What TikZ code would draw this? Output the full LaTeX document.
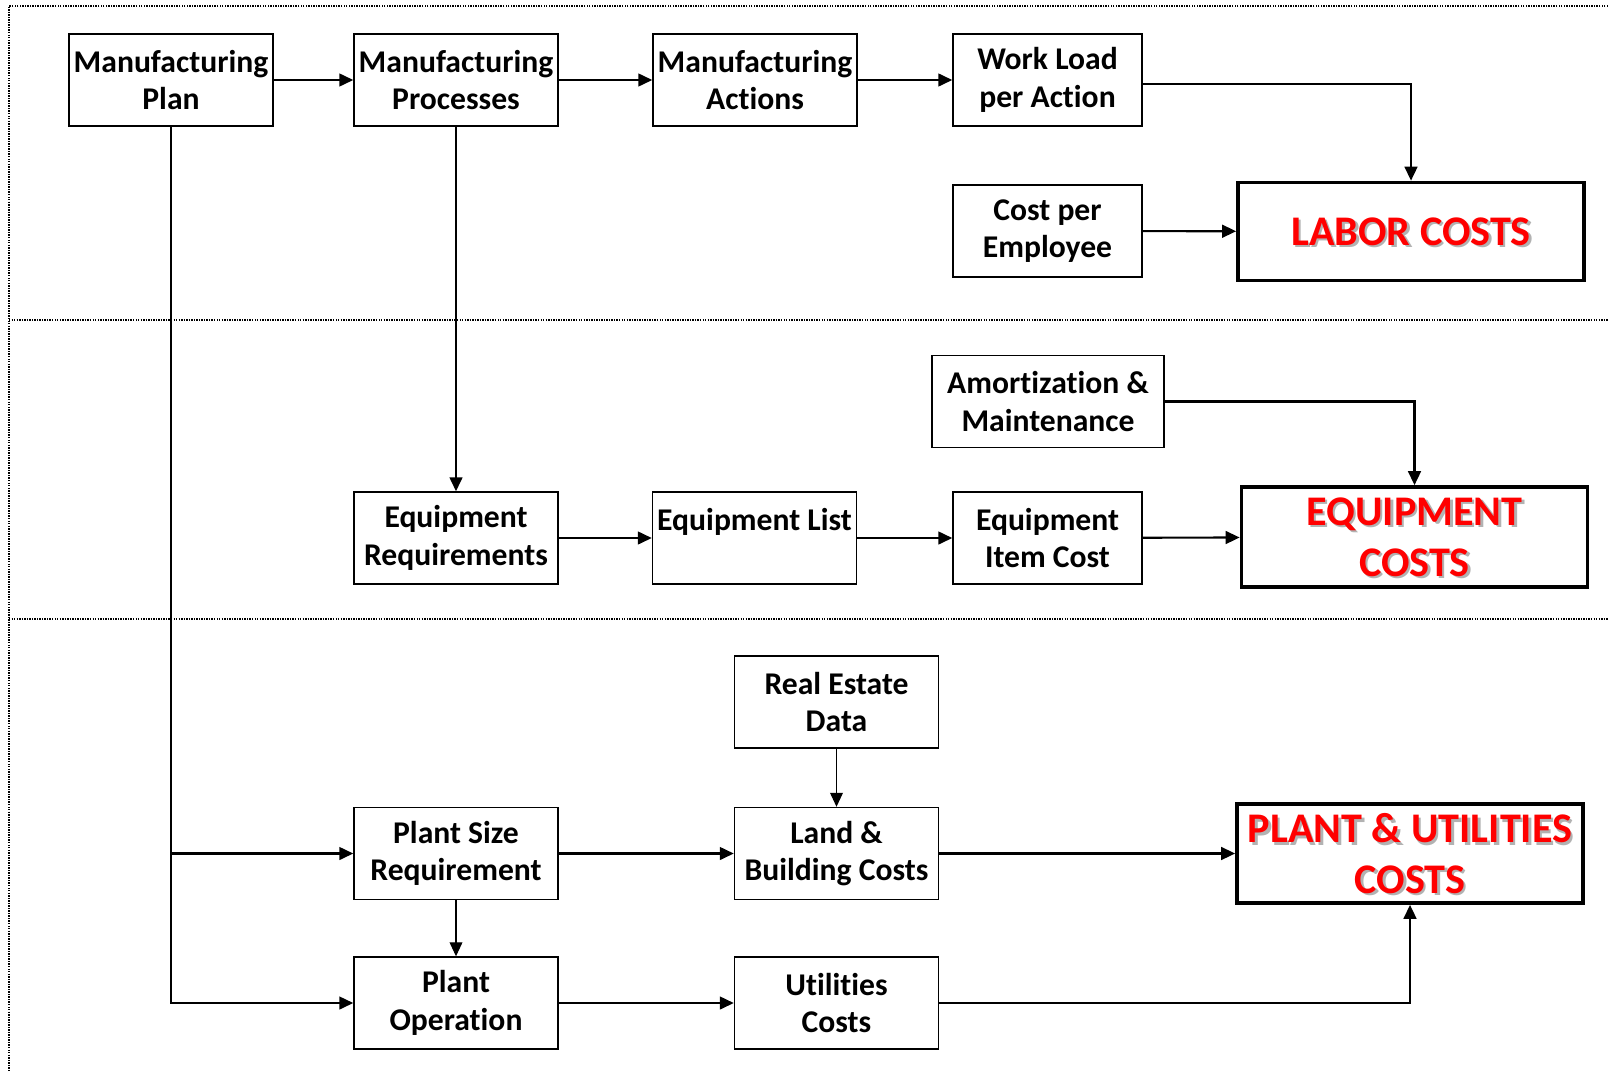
\documentclass[tikz,border=0pt]{standalone}
\usepackage{fontspec}
\setmainfont[Ligatures=NoCommon]{Carlito}
\usetikzlibrary{arrows.meta}
\begin{document}
\begin{tikzpicture}[x=0.025cm, y=-0.025cm,
		box/.style={draw, line width=1pt, inner sep=0pt, align=center, font=\bfseries\fontsize{22.5}{26.5}\selectfont, minimum width=5.1cm, minimum height=2.3cm},
		cost/.style={draw, line width=2.6pt, inner sep=0pt, align=center, text=red, font=\bfseries\fontsize{30}{36}\selectfont, minimum width=8.65cm, minimum height=2.45cm},
		costshade/.style={inner sep=0pt, align=center, text=black!30, font=\bfseries\fontsize{30}{36}\selectfont},
		link/.style={line width=1.5pt, -{Triangle[length=0.35cm, width=0.32cm]}},
		sep/.style={line width=1pt, dash pattern=on 1pt off 0.8pt}]
		\useasboundingbox (0,0) rectangle (1608,1071);
		% Sections
		\draw[sep] (1608,6) -- (9,6) -- (9,1071);
		\draw[sep] (9,320) -- (1608,320);
		\draw[sep] (9,619) -- (1608,619);
		% Labor
		\node[box] (mplan) at (171,80) {Manufacturing\\Plan};
		\node[box] (mproc) at (456,80) {Manufacturing\\Processes};
		\node[box] (mact) at (755,80) {Manufacturing\\Actions};
		\node[box, minimum width=4.725cm] (wload) at (1047.5,80) {Work Load\\per Action};
		\node[box, minimum width=4.725cm] (costemp) at (1047.5,231) {Cost per\\Employee};
		\node[costshade] (laborshade) at (1413.5,234) {LABOR COSTS};
		\node[cost] (labor) at (1411,231.5) {LABOR COSTS};
		% Equipment
		\node[box, minimum width=5.8cm] (amort) at (1048,401.5) {Amortization \&\\Maintenance};
		\node[box] (eqreq) at (456,538) {Equipment\\Requirements};
		\node[box] (eqlist) at (754.5,538) {Equipment List\\\mbox{}};
		\node[box, minimum width=4.725cm] (eqitem) at (1047.5,538) {Equipment\\Item Cost};
		\node[costshade] (equipshade) at (1417,539.5) {EQUIPMENT\\COSTS};
		\node[cost, minimum height=2.5cm] (equip) at (1414.5,537) {EQUIPMENT\\COSTS};
		% Plant and utilities
		\node[box] (realest) at (836.5,702) {Real Estate\\Data};
		\node[box] (psize) at (456,853.5) {Plant Size\\Requirement};
		\node[box] (land) at (836.5,853.5) {Land \&\\Building Costs};
		\node[costshade] (plantshade) at (1412.5,856) {PLANT \& UTILITIES\\COSTS};
		\node[cost, minimum height=2.475cm] (plant) at (1410,853.5) {PLANT \& UTILITIES\\COSTS};
		\node[box] (pop) at (456,1003) {Plant\\Operation};
		\node[box] (util) at (836.5,1003) {Utilities\\Costs};
		% Arrows
		\draw[link] (mplan) -- (mproc);
		\draw[link] (mproc) -- (mact);
		\draw[link] (mact) -- (wload);
		\draw[link] ([yshift=-3pt]wload.east) -| (labor.north);
		\draw[link] (costemp) -- (labor);
		\draw[link] (mproc) -- (eqreq);
		\draw[link] (amort.east) -| (equip.north);
		\draw[link] (eqreq) -- (eqlist);
		\draw[link] (eqlist) -- (eqitem);
		\draw[link] (eqitem) -- (equip);
		\draw[link, line width=0.8pt] (realest) -- (land);
		\draw[link] (psize) -- (land);
		\draw[link] (land) -- (plant);
		\draw[link, line width=0.8pt] (psize) -- (pop);
		\draw[link] (pop) -- (util);
		\draw[link] (util.east) -| (plant.south);
		\draw[link] (mplan.south) |- (pop.west);
		\draw[link] (mplan.south |- psize.west) -- (psize.west);
	\end{tikzpicture}
\end{document}
